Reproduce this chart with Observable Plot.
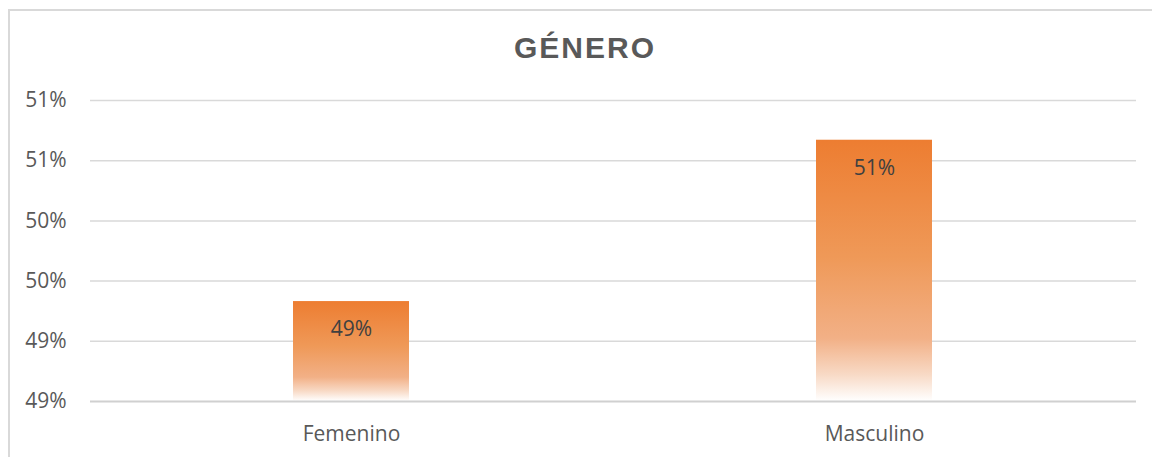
<!DOCTYPE html>
<html>
<head>
<meta charset="utf-8">
<script src="https://cdn.jsdelivr.net/npm/d3@7"></script>
<script src="https://cdn.jsdelivr.net/npm/@observablehq/plot@0.6"></script>
<style>
  html, body { margin: 0; padding: 0; background: #fff; }
  #wrap { position: relative; width: 1152px; height: 457px; overflow: hidden; }
  #frame { position: absolute; left: 8px; top: 9px; width: 1160px; height: 470px;
           border-top: 2px solid #d9d9d9; border-left: 2px solid #d9d9d9; box-sizing: border-box; }
  #title { position: absolute; left: 0; width: 1170px; top: 31px; text-align: center;
           font: bold 30px "Liberation Sans", Arial, sans-serif; letter-spacing: 2px; color: #595959; }
  #chart { position: absolute; left: 0; top: 0; }
</style>
</head>
<body>
<div id="wrap">
  <div id="frame"></div>
  <div id="chart"></div>
  <div id="title">GÉNERO</div>
</div>
<script>
const categories = ["Femenino", "Masculino"];
const values = [49.33, 50.67];            // percent
const valueLabels = ["49%", "51%"];
const tickValues = [48.5, 49, 49.5, 50, 50.5, 51];
const tickLabels = ["49%", "49%", "50%", "50%", "51%", "51%"];

const data = categories.map((c, i) => ({ cat: c, v: values[i], label: valueLabels[i] }));

function gradientDefs() {
  const ns = "http://www.w3.org/2000/svg";
  const defs = document.createElementNS(ns, "defs");
  const g = document.createElementNS(ns, "linearGradient");
  g.setAttribute("id", "barGrad");
  g.setAttribute("x1", "0"); g.setAttribute("y1", "0");
  g.setAttribute("x2", "0"); g.setAttribute("y2", "1");
  [["0", "#ED7D31"], ["0.45", "#EF9958"], ["0.76", "#F2B086"], ["0.9", "#F8DAC6"], ["1", "#FFFFFF"]]
    .forEach(([o, c]) => {
      const s = document.createElementNS(ns, "stop");
      s.setAttribute("offset", o); s.setAttribute("stop-color", c);
      g.appendChild(s);
    });
  defs.appendChild(g);
  return defs;
}

const chart = Plot.plot({
  width: 1152,
  height: 457,
  marginTop: 100,
  marginBottom: 56,
  marginLeft: 90,
  marginRight: 16,
  style: { fontFamily: "'Open Sans', 'Liberation Sans', sans-serif", fontSize: "21px", color: "#595959", background: "transparent" },
  x: { domain: categories, paddingInner: 0.778, paddingOuter: 0.389, label: null, axis: null },
  y: { domain: [48.5, 51], label: null, axis: null },
  marks: [
    gradientDefs,
    Plot.ruleY(tickValues.slice(1), { stroke: "#d9d9d9", strokeWidth: 1.5 }),
    Plot.barY(data, { x: "cat", y1: 48.5, y2: "v", fill: "url(#barGrad)" }),
    Plot.ruleY([48.5], { stroke: "#d0d0d0", strokeWidth: 2 }),
    Plot.text(data, { x: "cat", y: "v", text: "label", dy: 28, fill: "#404040", fontSize: 21 }),
    Plot.axisY(tickValues, { tickSize: 0, tickPadding: 24, tickFormat: (d, i) => tickLabels[i], fontSize: 21, fill: "#595959", label: null }),
    Plot.axisX(categories, { tickSize: 0, tickPadding: 25, fontSize: 21, fill: "#595959", label: null })
  ]
});
document.getElementById("chart").appendChild(chart);
</script>
</body>
</html>
